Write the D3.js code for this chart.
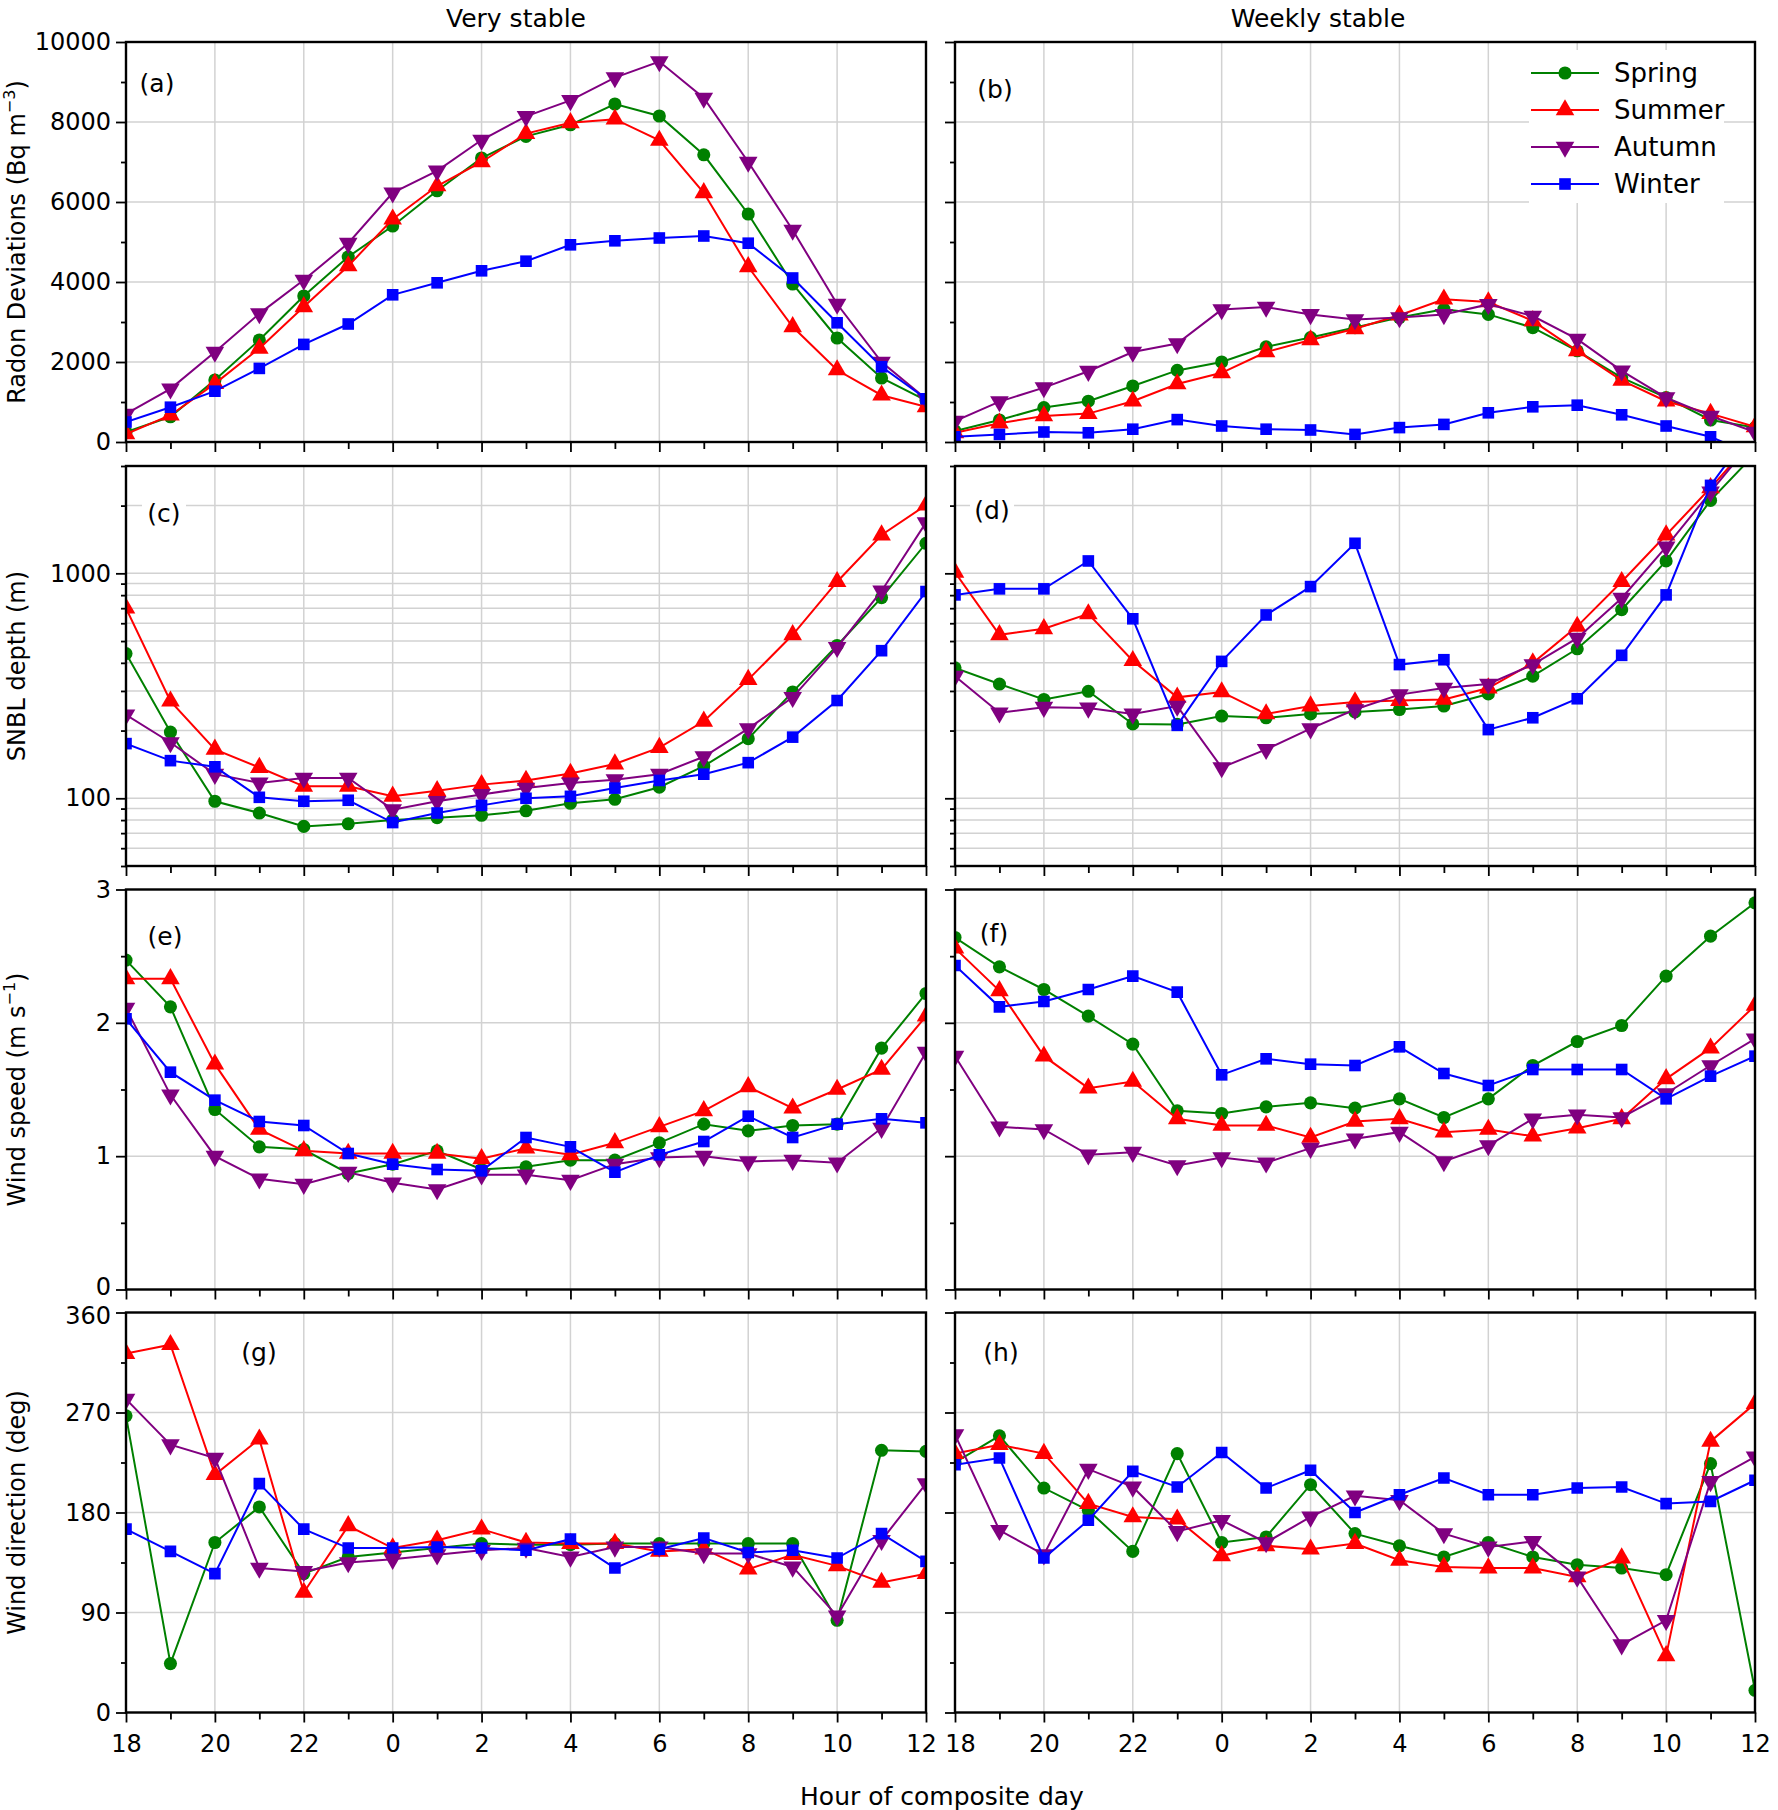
<!DOCTYPE html>
<html lang="en">

<head>
  <meta http-equiv="Content-Type" content="text/html; charset=utf-8">
  <title>Composite day: radon, SNBL depth, wind</title>
  <style type="text/css">
    body       { margin: 0; background: #fff; }
    svg text   { font-family: "DejaVu Sans", sans-serif; font-size: 25px; fill: #000; }
    .grid line { stroke: #d2d2d2; stroke-width: 1.5; }
    .tick line { stroke: #000; stroke-width: 1.8; }
    .frame     { fill: none; stroke: #000; stroke-width: 2.4; }
    .series    { fill: none; stroke-width: 2; }
  </style>
</head>

<body>

<script src="https://d3js.org/d3.v7.min.js"></script>
<script>
  //----------------------------------------------------------------------------
  // hour of the composite day (18 h on the first evening to 12 h next day)
  var hours = [18, 19, 20, 21, 22, 23, 0, 1, 2, 3, 4, 5, 6, 7, 8, 9, 10, 11, 12];
  var seasons = ["Spring", "Summer", "Autumn", "Winter"];
  var columnTitles = ["Very stable", "Weekly stable"];
  var panelLabels = ["(a)", "(b)", "(c)", "(d)", "(e)", "(f)", "(g)", "(h)"];

  // (a) radon deviations, very stable (Bq m-3)
  var radonVS_Spring = [250, 630, 1550, 2550, 3650, 4630, 5400, 6280, 7100, 7640, 7930, 8450, 8150, 7180, 5700, 3950, 2600, 1600, 1040];
  var radonVS_Summer = [200, 670, 1460, 2340, 3380, 4400, 5570, 6400, 7000, 7710, 7980, 8070, 7540, 6230, 4380, 2880, 1800, 1170, 880];
  var radonVS_Autumn = [700, 1330, 2250, 3210, 4050, 4970, 6230, 6780, 7550, 8140, 8540, 9110, 9510, 8600, 7000, 5300, 3450, 2000, 1080];
  var radonVS_Winter = [500, 870, 1270, 1840, 2440, 2950, 3680, 3980, 4280, 4520, 4930, 5030, 5100, 5150, 4970, 4100, 2980, 1880, 1080];

  // (b) radon deviations, weekly stable
  var radonWS_Spring = [275, 550, 860, 1020, 1400, 1790, 2000, 2380, 2610, 2860, 3110, 3320, 3190, 2860, 2280, 1610, 1110, 550, 360];
  var radonWS_Summer = [230, 470, 650, 710, 1020, 1450, 1730, 2250, 2550, 2830, 3170, 3570, 3500, 3030, 2280, 1540, 1020, 710, 380];
  var radonWS_Autumn = [525, 1010, 1360, 1770, 2250, 2460, 3310, 3375, 3190, 3060, 3110, 3190, 3440, 3150, 2570, 1780, 1110, 650, 250];
  var radonWS_Winter = [130, 190, 250, 230, 320, 560, 400, 320, 300, 190, 360, 440, 730, 880, 920, 680, 400, 130, -350];

  // (c) SNBL depth, very stable (m)
  var snblVS_Spring = [440, 197, 97, 86, 75, 77, 80, 82, 84, 88, 95, 99, 112, 139, 184, 297, 478, 780, 1360];
  var snblVS_Summer = [700, 270, 165, 137, 113, 113, 102, 108, 115, 120, 129, 142, 168, 220, 337, 533, 918, 1480, 2010];
  var snblVS_Autumn = [235, 177, 128, 117, 123, 123, 89, 97, 104, 111, 117, 121, 128, 153, 204, 281, 469, 835, 1680];
  var snblVS_Winter = [175, 147, 138, 101, 97, 98, 78, 86, 93, 100, 102, 111, 120, 128, 144, 187, 272, 453, 830];

  // (d) SNBL depth, weekly stable
  var snblWS_Spring = [380, 322, 275, 299, 214, 213, 232, 228, 237, 242, 248, 257, 291, 349, 462, 689, 1135, 2110, 3400];
  var snblWS_Summer = [1010, 533, 567, 660, 409, 281, 297, 237, 257, 268, 272, 275, 309, 399, 581, 918, 1480, 2400, 4000];
  var snblWS_Autumn = [349, 240, 254, 252, 237, 257, 137, 165, 204, 248, 289, 309, 322, 393, 515, 775, 1310, 2300, 4000];
  var snblWS_Winter = [802, 853, 853, 1135, 628, 211, 406, 653, 873, 1360, 393, 413, 202, 228, 277, 432, 802, 2460, 4570];

  // (e) wind speed, very stable (m s-1)
  var wsVS_Spring = [2.47, 2.12, 1.35, 1.07, 1.05, 0.87, 0.94, 1.04, 0.90, 0.92, 0.97, 0.97, 1.10, 1.24, 1.19, 1.23, 1.24, 1.81, 2.22];
  var wsVS_Summer = [2.33, 2.33, 1.69, 1.20, 1.04, 1.02, 1.02, 1.02, 0.98, 1.06, 1.01, 1.10, 1.22, 1.34, 1.52, 1.36, 1.50, 1.65, 2.05];
  var wsVS_Autumn = [2.11, 1.46, 1.00, 0.83, 0.79, 0.88, 0.80, 0.75, 0.86, 0.86, 0.82, 0.94, 0.99, 1.00, 0.96, 0.97, 0.95, 1.21, 1.78];
  var wsVS_Winter = [2.03, 1.63, 1.42, 1.26, 1.23, 1.02, 0.94, 0.90, 0.89, 1.14, 1.07, 0.88, 1.01, 1.11, 1.30, 1.14, 1.24, 1.28, 1.25];

  // (f) wind speed, weekly stable
  var wsWS_Spring = [2.64, 2.42, 2.25, 2.05, 1.84, 1.34, 1.32, 1.37, 1.40, 1.36, 1.43, 1.29, 1.43, 1.68, 1.86, 1.98, 2.35, 2.65, 2.90];
  var wsWS_Summer = [2.56, 2.24, 1.75, 1.51, 1.56, 1.28, 1.23, 1.23, 1.14, 1.26, 1.28, 1.18, 1.20, 1.15, 1.21, 1.28, 1.58, 1.81, 2.13];
  var wsWS_Autumn = [1.75, 1.22, 1.20, 1.01, 1.03, 0.93, 0.99, 0.95, 1.06, 1.13, 1.18, 0.96, 1.08, 1.28, 1.31, 1.29, 1.47, 1.68, 1.88];
  var wsWS_Winter = [2.43, 2.12, 2.16, 2.25, 2.35, 2.23, 1.61, 1.73, 1.69, 1.68, 1.82, 1.62, 1.53, 1.65, 1.65, 1.65, 1.43, 1.60, 1.75];

  // (g) wind direction, very stable (deg)
  var wdVS_Spring = [267, 44, 153, 185, 125, 140, 144, 148, 152, 151, 151, 152, 152, 152, 152, 152, 83, 236, 235];
  var wdVS_Summer = [323, 331, 214, 246, 108, 168, 148, 155, 165, 153, 152, 152, 145, 147, 129, 142, 132, 117, 125];
  var wdVS_Autumn = [282, 241, 229, 130, 127, 135, 138, 142, 146, 148, 140, 149, 149, 143, 143, 131, 87, 155, 206];
  var wdVS_Winter = [165, 145, 125, 206, 165, 148, 148, 149, 148, 146, 156, 130, 147, 157, 144, 146, 139, 161, 136];

  // (h) wind direction, weekly stable
  var wdWS_Spring = [225, 249, 202, 182, 145, 233, 153, 158, 205, 161, 150, 140, 153, 140, 133, 130, 124, 224, 20];
  var wdWS_Summer = [233, 241, 233, 188, 176, 174, 141, 150, 147, 152, 137, 131, 130, 130, 122, 139, 51, 244, 278];
  var wdWS_Autumn = [250, 164, 142, 219, 203, 163, 173, 153, 176, 195, 191, 161, 149, 154, 122, 61, 83, 208, 230];
  var wdWS_Winter = [223, 229, 139, 173, 217, 203, 234, 202, 218, 180, 196, 211, 196, 196, 202, 203, 188, 190, 209];

  // axis ticks
  var radonTicks = [0, 2000, 4000, 6000, 8000, 10000];
  var snblTicks = [100, 1000];
  var speedTicks = [0, 1, 2, 3];
  var dirTicks = [0, 90, 180, 270, 360];

  //----------------------------------------------------------------------------
  var width = 1778;
  var height = 1810;
  var colX = [126, 955];
  var rowY = [42, 466, 889.5, 1312.5];
  var pw = 800, ph = 400;
  var tickFont = 24;

  var colors = { Spring: "#008000", Summer: "#ff0000", Autumn: "#800080", Winter: "#0000ff" };
  var symbols = {
    Spring: { type: d3.symbolCircle, size: 135, rot: 0 },
    Summer: { type: d3.symbolTriangle, size: 150, rot: 0 },
    Autumn: { type: d3.symbolTriangle, size: 150, rot: 180 },
    Winter: { type: d3.symbolSquare, size: 135, rot: 0 }
  };

  var svg = d3.select("body")
    .append("svg")
      .attr("width", width)
      .attr("height", height);

  var x = d3.scaleLinear().domain([0, hours.length - 1]).range([0, pw]);
  var evenIdx = d3.range(0, hours.length, 2);
  var oddIdx = d3.range(1, hours.length, 2);

  function logMinor(lo, hi) {
    var out = [];
    [10, 100, 1000].forEach(function(dec) {
      for (var k = 1; k < 10; k++) {
        var v = k * dec;
        if (v >= lo && v <= hi && snblTicks.indexOf(v) < 0) out.push(v);
      }
    });
    return out;
  }

  // one description per row of panels
  var rows = [
    { y: d3.scaleLinear().domain([0, 10000]), major: radonTicks,
      minor: d3.range(1000, 10000, 2000), title: ["Radon Deviations (Bq m", "\u22123", ")"],
      series: [[radonVS_Spring, radonVS_Summer, radonVS_Autumn, radonVS_Winter],
               [radonWS_Spring, radonWS_Summer, radonWS_Autumn, radonWS_Winter]] },
    { y: d3.scaleLog().domain([50, 3000]), major: snblTicks,
      minor: logMinor(50, 3000), title: ["SNBL depth (m)"],
      series: [[snblVS_Spring, snblVS_Summer, snblVS_Autumn, snblVS_Winter],
               [snblWS_Spring, snblWS_Summer, snblWS_Autumn, snblWS_Winter]] },
    { y: d3.scaleLinear().domain([0, 3]), major: speedTicks,
      minor: [0.5, 1.5, 2.5], title: ["Wind speed (m s", "\u22121", ")"],
      series: [[wsVS_Spring, wsVS_Summer, wsVS_Autumn, wsVS_Winter],
               [wsWS_Spring, wsWS_Summer, wsWS_Autumn, wsWS_Winter]] },
    { y: d3.scaleLinear().domain([0, 360]), major: dirTicks,
      minor: [45, 135, 225, 315], title: ["Wind direction (deg)"],
      series: [[wdVS_Spring, wdVS_Summer, wdVS_Autumn, wdVS_Winter],
               [wdWS_Spring, wdWS_Summer, wdWS_Autumn, wdWS_Winter]] }
  ];
  rows[1].grid = rows[1].major.concat(rows[1].minor);

  // panel label centres (absolute)
  var labelPos = [[157, 83], [995, 89], [164, 513], [992, 510],
                  [165, 936], [994, 933], [259, 1352], [1001, 1352]];

  function styleAxis(g) {
    g.select(".domain").remove();
    g.selectAll("text").style("font-size", tickFont + "px").style("font-family", "DejaVu Sans");
  }

  //----------------------------------------------------------------------------
  rows.forEach(function(row, r) {
    var y = row.y.copy().range([ph, 0]);
    var gridVals = row.grid || row.major;
    var dom = row.y.domain();

    [0, 1].forEach(function(c) {
      var id = "clip-" + r + "-" + c;
      var g = svg.append("g")
        .attr("transform", "translate(" + colX[c] + "," + rowY[r] + ")");

      g.append("clipPath").attr("id", id)
        .append("rect").attr("width", pw).attr("height", ph);

      // grid
      var grid = g.append("g").attr("class", "grid");
      grid.selectAll(".gx").data(evenIdx).enter().append("line")
        .attr("x1", function(d) { return x(d); })
        .attr("x2", function(d) { return x(d); })
        .attr("y1", 0).attr("y2", ph);
      grid.selectAll(".gy").data(gridVals).enter().append("line")
        .attr("x1", 0).attr("x2", pw)
        .attr("y1", function(d) { return y(d); })
        .attr("y2", function(d) { return y(d); });

      // y axis, labels on the left column only
      var ya = g.append("g")
        .call(d3.axisLeft(y).tickValues(row.major).tickSize(10).tickPadding(5)
          .tickFormat(c === 0 ? d3.format("d") : ""))
        .call(styleAxis);
      // keep the labels where two panels meet apart a little
      if (r === 2) ya.selectAll("text").filter(function(d) { return d === dom[0]; }).attr("dy", "0.2em");
      if (r === 3) ya.selectAll("text").filter(function(d) { return d === dom[1]; }).attr("dy", "0.45em");
      g.append("g")
        .call(d3.axisLeft(y).tickValues(row.minor).tickSize(5).tickFormat(""))
        .call(styleAxis);

      // x axis, labels on the bottom row only
      var xa = g.append("g")
        .attr("transform", "translate(0," + ph + ")")
        .call(d3.axisBottom(x).tickValues(evenIdx).tickSize(10).tickPadding(12)
          .tickFormat(r === rows.length - 1 ? function(i) { return hours[i]; } : ""))
        .call(styleAxis);
      if (c === 0) xa.selectAll("text").filter(function(d) { return d === hours.length - 1; }).attr("dx", -5);
      if (c === 1) xa.selectAll("text").filter(function(d) { return d === 0; }).attr("dx", 5);
      g.append("g")
        .attr("transform", "translate(0," + ph + ")")
        .call(d3.axisBottom(x).tickValues(oddIdx).tickSize(7).tickFormat(""))
        .call(styleAxis);

      // panel label with white backing
      var k = r * 2 + c;
      var lp = labelPos[k];
      g.append("rect")
        .attr("x", lp[0] - colX[c] - 22).attr("y", lp[1] - rowY[r] - 17)
        .attr("width", 44).attr("height", 34).attr("fill", "#fff");
      g.append("text")
        .attr("x", lp[0] - colX[c]).attr("y", lp[1] - rowY[r])
        .attr("text-anchor", "middle").attr("dominant-baseline", "central")
        .text(panelLabels[k]);

      // series
      var plot = g.append("g").attr("clip-path", "url(#" + id + ")");
      row.series[c].forEach(function(vals, s) {
        var name = seasons[s];
        var line = d3.line()
          .x(function(d, i) { return x(i); })
          .y(function(d) { return y(d); });
        plot.append("path")
          .datum(vals)
          .attr("class", "series")
          .attr("stroke", colors[name])
          .attr("d", line);
        var sym = symbols[name];
        plot.selectAll(".m" + s).data(vals).enter().append("path")
          .attr("transform", function(d, i) {
            return "translate(" + x(i) + "," + y(d) + ") rotate(" + sym.rot + ")";
          })
          .attr("fill", colors[name])
          .attr("d", d3.symbol().type(sym.type).size(sym.size));
      });

      g.append("rect").attr("class", "frame").attr("width", pw).attr("height", ph);

      // legend in panel (b)
      if (r === 0 && c === 1) {
        var lg = g.append("g").attr("transform", "translate(574,8)");
        lg.append("rect").attr("width", 195).attr("height", 153).attr("fill", "#fff");
        seasons.forEach(function(name, s) {
          var ly = 23 + s * 37;
          lg.append("line")
            .attr("x1", 2).attr("x2", 70).attr("y1", ly).attr("y2", ly)
            .attr("stroke", colors[name]).attr("stroke-width", 2);
          lg.append("path")
            .attr("transform", "translate(36," + ly + ") rotate(" + symbols[name].rot + ")")
            .attr("fill", colors[name])
            .attr("d", d3.symbol().type(symbols[name].type).size(symbols[name].size));
          lg.append("text")
            .attr("x", 85).attr("y", ly)
            .attr("dominant-baseline", "central")
            .style("font-size", "26px")
            .text(name);
        });
      }
    });

    // y title, rotated
    var cy = rowY[r] + ph / 2;
    var t = svg.append("text")
      .attr("transform", "translate(17," + cy + ") rotate(-90)")
      .attr("text-anchor", "middle")
      .attr("dominant-baseline", "central")
      .style("font-size", "24px");
    t.append("tspan").text(row.title[0]);
    if (row.title.length > 1) {
      t.append("tspan").attr("dy", -8).style("font-size", "16px").text(row.title[1]);
      t.append("tspan").attr("dy", 8).text(row.title[2]);
    }
  });

  // column titles and x title
  columnTitles.forEach(function(s, c) {
    svg.append("text")
      .attr("x", [516, 1318][c]).attr("y", 18)
      .attr("text-anchor", "middle").attr("dominant-baseline", "central")
      .text(s);
  });

  svg.append("text")
    .attr("x", 942).attr("y", 1796)
    .attr("text-anchor", "middle").attr("dominant-baseline", "central")
    .text("Hour of composite day");

  //----------------------------------------------------------------------------
</script>

</body>
</html>
